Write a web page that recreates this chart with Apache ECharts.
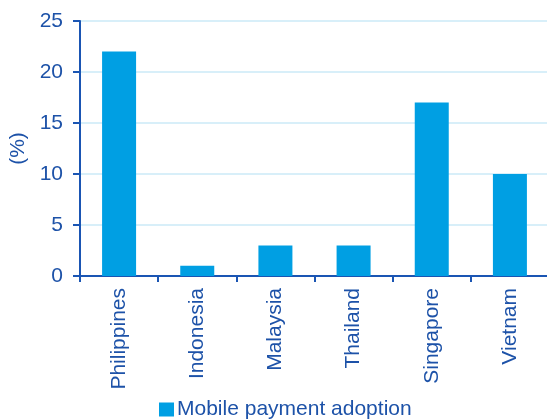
<!DOCTYPE html>
<html>
<head>
<meta charset="utf-8">
<script src="https://cdn.jsdelivr.net/npm/echarts@6/dist/echarts.min.js"></script>
<style>
  html, body { margin: 0; padding: 0; background: #fff; }
  #chart { width: 547px; height: 419px; }
</style>
</head>
<body>
<div id="chart"></div>
<script>
// Mobile payment adoption by country (%)
const countries = ['Philippines', 'Indonesia', 'Malaysia', 'Thailand', 'Singapore', 'Vietnam'];
const adoption = [22, 1, 3, 3, 17, 10];
const seriesName = 'Mobile payment adoption';
const yTicks = { min: 0, max: 25, interval: 5 };

const textColor = '#1d52a8';
const axisColor = '#1a55b3';
const barColor = '#009fe3';
const gridColor = '#d8eff9';
const font = 'Liberation Sans, Arial, sans-serif';

const chart = echarts.init(document.getElementById('chart'), null, { renderer: 'canvas' });
chart.setOption({
  animation: false,
  textStyle: { fontFamily: font },
  grid: { left: 80, top: 21, width: 469, height: 255, containLabel: false, outerBoundsMode: 'none' },
  legend: {
    top: 394,
    left: 154,
    itemWidth: 15,
    itemHeight: 14,
    itemGap: 4,
    icon: 'rect',
    textStyle: { color: textColor, fontSize: 21, fontFamily: font, padding: [0, 0, 0, -2] },
    data: [seriesName]
  },
  xAxis: {
    type: 'category',
    data: countries,
    axisLine: { lineStyle: { color: axisColor, width: 2 } },
    axisTick: { show: true, length: 6, alignWithLabel: false, lineStyle: { color: axisColor, width: 2 } },
    axisLabel: { rotate: 90, color: textColor, fontSize: 21, fontFamily: font, margin: 12, interval: 0 },
    splitLine: { show: false }
  },
  yAxis: {
    type: 'value',
    min: yTicks.min,
    max: yTicks.max,
    interval: yTicks.interval,
    name: '(%)',
    nameLocation: 'middle',
    nameRotate: 90,
    nameGap: 45,
    nameTextStyle: { color: textColor, fontSize: 21, fontFamily: font },
    axisLine: { show: true, lineStyle: { color: axisColor, width: 2 } },
    axisTick: { show: true, length: 7, lineStyle: { color: axisColor, width: 2 } },
    axisLabel: { color: textColor, fontSize: 21, fontFamily: font, margin: 17 },
    splitLine: { show: true, lineStyle: { color: gridColor, width: 2 } }
  },
  series: [{
    name: seriesName,
    type: 'bar',
    data: adoption,
    barWidth: 34,
    itemStyle: { color: barColor }
  }]
});
</script>
</body>
</html>
